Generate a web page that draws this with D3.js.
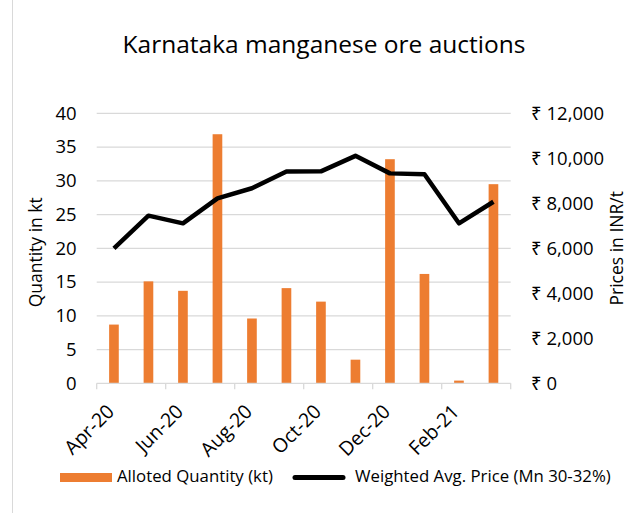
<!DOCTYPE html>
<html>
<head>
<meta charset="utf-8">
<script src="https://cdn.jsdelivr.net/npm/d3@7"></script>
<style>
  body { margin: 0; background: #fff; }
  svg { font-family: "Open Sans", sans-serif; }
</style>
</head>
<body>
<div id="chart"></div>
<script>
// Data
var months = ["Apr-20", "May-20", "Jun-20", "Jul-20", "Aug-20", "Sep-20",
              "Oct-20", "Nov-20", "Dec-20", "Jan-21", "Feb-21", "Mar-21"];
var quantity = [8.7, 15.1, 13.7, 36.9, 9.6, 14.1, 12.1, 3.5, 33.2, 16.2, 0.4, 29.5];
var price = [6000, 7450, 7110, 8220, 8670, 9410, 9420, 10110, 9330, 9290, 7110, 8070];
var leftTicks = [0, 5, 10, 15, 20, 25, 30, 35, 40];
var rightTicks = [0, 2000, 4000, 6000, 8000, 10000, 12000];
var labelMonths = ["Apr-20", "Jun-20", "Aug-20", "Oct-20", "Dec-20", "Feb-21"];

var W = 627, H = 513;
var margin = { top: 113.3, right: 116.3, bottom: 129.7, left: 96.7 },
    width = W - margin.left - margin.right,
    height = H - margin.top - margin.bottom;

var svg = d3.select("#chart")
  .append("svg")
    .attr("width", W)
    .attr("height", H);

// chart border (only the left edge shows in the picture)
svg.append("line")
  .attr("x1", 12.5).attr("x2", 12.5)
  .attr("y1", 0).attr("y2", H)
  .attr("stroke", "#d9d9d9")
  .attr("stroke-width", 1);

// Title
svg.append("text")
  .attr("x", 324)
  .attr("y", 53)
  .attr("text-anchor", "middle")
  .attr("font-size", "24.5px")
  .attr("fill", "#000")
  .text("Karnataka manganese ore auctions");

var g = svg.append("g")
  .attr("transform", "translate(" + margin.left + "," + margin.top + ")");

var x = d3.scaleBand().domain(months).range([0, width])
  .paddingInner(0.72).paddingOuter(0.36);
var step = x.step();
var yL = d3.scaleLinear().domain([0, 40]).range([height, 0]);
var yR = d3.scaleLinear().domain([0, 12000]).range([height, 0]);

// gridlines
g.append("g")
  .selectAll("line")
  .data(leftTicks.slice(1))
  .enter()
  .append("line")
  .attr("x1", 0).attr("x2", width)
  .attr("y1", function(d) { return yL(d); })
  .attr("y2", function(d) { return yL(d); })
  .attr("stroke", "#d9d9d9")
  .attr("stroke-width", 1.3);

// Left axis
var left = g.append("g")
  .call(d3.axisLeft(yL).tickValues(leftTicks).tickSize(0).tickPadding(20));
left.select(".domain").remove();
left.selectAll("text").attr("font-size", "18.5px").attr("fill", "#000")
  .attr("font-family", "'Open Sans', sans-serif");

// Right axis
var right = g.append("g")
  .attr("transform", "translate(" + width + ",0)")
  .call(d3.axisRight(yR).tickValues(rightTicks).tickSize(0).tickPadding(20)
    .tickFormat(function(d) { return "₹ " + d3.format(",")(d); }));
right.select(".domain").remove();
right.selectAll("text").attr("font-size", "18.5px").attr("fill", "#000")
  .attr("font-family", "'Open Sans', sans-serif");

// Bars
g.selectAll(".bar")
  .data(quantity)
  .enter()
  .append("rect")
  .attr("class", "bar")
  .attr("x", function(d, i) { return x(months[i]); })
  .attr("width", x.bandwidth())
  .attr("y", function(d) { return yL(d); })
  .attr("height", function(d) { return height - yL(d); })
  .attr("fill", "#ed7d31");

// Bottom axis line and ticks at every second category boundary
g.append("line")
  .attr("x1", 0).attr("x2", width)
  .attr("y1", height).attr("y2", height)
  .attr("stroke", "#d9d9d9")
  .attr("stroke-width", 1.3);

var tickPos = labelMonths.map(function(m) { return x(m) - (step - x.bandwidth()) / 2; });
tickPos.push(width);
g.append("g")
  .selectAll("line")
  .data(tickPos)
  .enter()
  .append("line")
  .attr("x1", function(d) { return d; })
  .attr("x2", function(d) { return d; })
  .attr("y1", height).attr("y2", height + 6)
  .attr("stroke", "#d9d9d9")
  .attr("stroke-width", 1.3);

// x labels, rotated
g.append("g")
  .selectAll("text")
  .data(labelMonths)
  .enter()
  .append("text")
  .attr("transform", function(d) {
    return "translate(" + (x(d) + x.bandwidth() / 2 + 1.5) + "," + (height + 29.5) + ") rotate(-45)";
  })
  .attr("text-anchor", "end")
  .attr("font-size", "19.5px")
  .attr("fill", "#000")
  .text(function(d) { return d; });

// Price line
var line = d3.line()
  .x(function(d, i) { return x(months[i]) + x.bandwidth() / 2; })
  .y(function(d) { return yR(d); });

g.append("path")
  .datum(price)
  .attr("d", line)
  .attr("fill", "none")
  .attr("stroke", "#000")
  .attr("stroke-width", 4.5)
  .attr("stroke-linejoin", "round");

// Axis titles
svg.append("text")
  .attr("transform", "translate(42," + (margin.top + height / 2 + 4) + ") rotate(-90)")
  .attr("text-anchor", "middle")
  .attr("font-size", "17.5px")
  .attr("fill", "#000")
  .text("Quantity in kt");

svg.append("text")
  .attr("transform", "translate(623," + (margin.top + height / 2) + ") rotate(-90)")
  .attr("text-anchor", "middle")
  .attr("font-size", "17.5px")
  .attr("fill", "#000")
  .text("Prices in INR/t");

// Legend
var legend = svg.append("g");
legend.append("rect")
  .attr("x", 60).attr("y", 473)
  .attr("width", 52).attr("height", 9)
  .attr("fill", "#ed7d31");
legend.append("text")
  .attr("x", 117).attr("y", 482)
  .attr("font-size", "16.8px")
  .attr("fill", "#000")
  .text("Alloted Quantity (kt)");
legend.append("line")
  .attr("x1", 295).attr("x2", 343)
  .attr("y1", 477.5).attr("y2", 477.5)
  .attr("stroke", "#000")
  .attr("stroke-width", 5)
  .attr("stroke-linecap", "round");
legend.append("text")
  .attr("x", 355).attr("y", 482)
  .attr("font-size", "16.8px")
  .attr("fill", "#000")
  .text("Weighted Avg. Price (Mn 30-32%)");
</script>
</body>
</html>
